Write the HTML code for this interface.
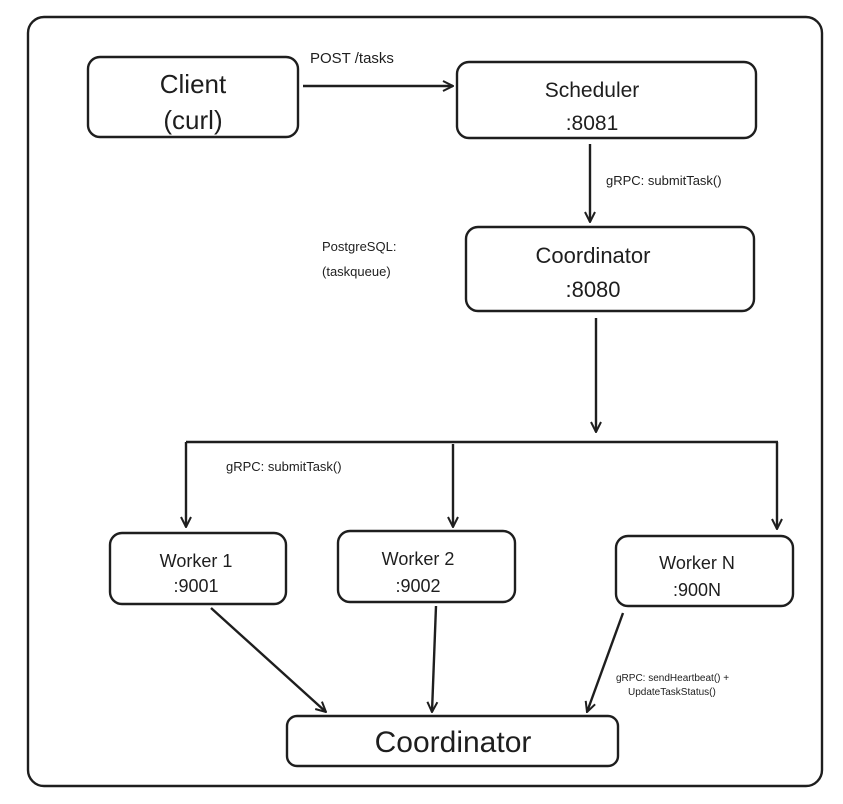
<!DOCTYPE html>
<html><head><meta charset="utf-8"><style>
html,body{margin:0;padding:0;background:#fff;}
svg{display:block}
text{font-family:"Liberation Sans",sans-serif;fill:#1e1e1e}
</style></head><body>
<svg width="843" height="804" viewBox="0 0 843 804" xmlns="http://www.w3.org/2000/svg">
<defs>
<marker id="a" viewBox="0 0 12 12" refX="11" refY="6" markerWidth="12" markerHeight="12" markerUnits="userSpaceOnUse" orient="auto">
<path d="M1,1 L11,6 L1,11" fill="none" stroke="#1e1e1e" stroke-width="2"/>
</marker>
</defs>
<g fill="none" stroke="#1e1e1e" stroke-width="2.4">
<rect x="28" y="17" width="794" height="769" rx="16"/>
<rect x="88" y="57" width="210" height="80" rx="12"/>
<rect x="457" y="62" width="299" height="76" rx="12"/>
<rect x="466" y="227" width="288" height="84" rx="12"/>
<rect x="110" y="533" width="176" height="71" rx="12"/>
<rect x="338" y="531" width="177" height="71" rx="12"/>
<rect x="616" y="536" width="177" height="70" rx="12"/>
<rect x="287" y="716" width="331" height="50" rx="10"/>
</g>
<g fill="none" stroke="#1e1e1e" stroke-width="2.4" marker-end="url(#a)">
<line x1="303" y1="86" x2="453" y2="86"/>
<line x1="590" y1="144" x2="590" y2="222"/>
<line x1="596" y1="318" x2="596" y2="432"/>
<line x1="186" y1="442" x2="186" y2="527"/>
<line x1="453" y1="444" x2="453" y2="527"/>
<line x1="777" y1="442" x2="777" y2="529"/>
<line x1="211" y1="608" x2="326" y2="712"/>
<line x1="436" y1="606" x2="432" y2="712"/>
<line x1="623" y1="613" x2="587" y2="712"/>
</g>
<line x1="186" y1="442" x2="778" y2="442" stroke="#1e1e1e" stroke-width="2.6"/>
<g text-anchor="middle">
<text x="193" y="93" font-size="26">Client</text>
<text x="193" y="129" font-size="26">(curl)</text>
<text x="592" y="97" font-size="21">Scheduler</text>
<text x="592" y="130" font-size="21">:8081</text>
<text x="593" y="263" font-size="22">Coordinator</text>
<text x="593" y="297" font-size="22">:8080</text>
<text x="196" y="567" font-size="18">Worker 1</text>
<text x="196" y="592" font-size="18">:9001</text>
<text x="418" y="565" font-size="18">Worker 2</text>
<text x="418" y="592" font-size="18">:9002</text>
<text x="697" y="569" font-size="18">Worker N</text>
<text x="697" y="596" font-size="18">:900N</text>
<text x="453" y="752" font-size="30">Coordinator</text>
</g>
<text x="310" y="63" font-size="15">POST /tasks</text>
<text x="606" y="185" font-size="13">gRPC: submitTask()</text>
<text x="322" y="251" font-size="13">PostgreSQL:</text>
<text x="322" y="276" font-size="13">(taskqueue)</text>
<text x="226" y="471" font-size="13">gRPC: submitTask()</text>
<text x="616" y="681" font-size="10">gRPC: sendHeartbeat() +</text>
<text x="628" y="695" font-size="10">UpdateTaskStatus()</text>
</svg>
</body></html>
